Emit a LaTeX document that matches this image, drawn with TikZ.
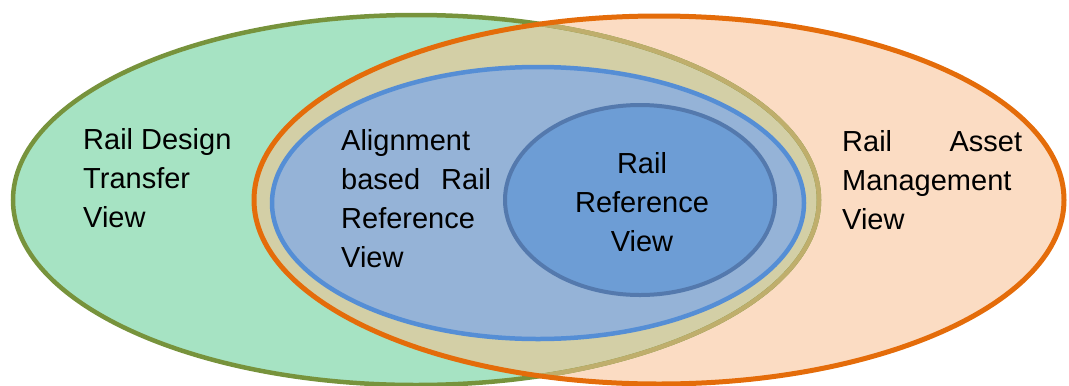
\documentclass[tikz,border=0pt]{standalone}
\usepackage{fontspec}
\setmainfont{Liberation Sans}
\definecolor{designfill}{HTML}{A6E3C3}
\definecolor{designline}{HTML}{77933C}
\definecolor{assetfill}{HTML}{FBDCC3}
\definecolor{assetline}{HTML}{E46C0A}
\definecolor{overlapfill}{HTML}{D3CFA6}
\definecolor{overlapline}{HTML}{BFAE6C}
\definecolor{alignfill}{HTML}{95B3D7}
\definecolor{alignline}{HTML}{558ED5}
\definecolor{reffill}{HTML}{6D9DD5}
\definecolor{refline}{HTML}{5479AD}
\begin{document}
\begin{tikzpicture}[x=1bp,y=-1bp,
  ring/.style={line width=4.5bp},
  label/.style={inner sep=0pt, font=\fontsize{29bp}{39bp}\selectfont, text=black}]
  \useasboundingbox (0,0) rectangle (1069,385);
  \clip (0,0) rectangle (1069,385);
  % the two outer views
  \def\designpath{(416,200) ellipse [x radius=403, y radius=185]}
  \def\assetpath{(659,200) ellipse [x radius=405, y radius=184]}
  \fill[designfill] \designpath;
  \fill[assetfill] \assetpath;
  \begin{scope}
    \clip \designpath;
    \fill[overlapfill] \assetpath;
  \end{scope}
  \draw[ring, designline] \designpath;
  \begin{scope}
    \clip \assetpath;
    \draw[ring, overlapline] \designpath;
  \end{scope}
  % alignment based view and rail reference view
  \draw[ring, alignline, fill=alignfill] (538,203) ellipse [x radius=266, y radius=136];
  \draw[line width=4bp, refline, fill=reffill] (640,200) ellipse [x radius=135, y radius=95];
  % outline of the asset view on top
  \draw[line width=5bp, assetline] \assetpath;
  % labels
  \node[label, anchor=north west, align=left] (rdt) at (83,128)
    {Rail Design\\Transfer\\View};
  \node[label, anchor=north west, align=left] (abr) at (341,129)
    {Alignment\\\makebox[150bp][s]{based Rail}\\Reference\\View};
  \node[label, anchor=north, align=center] (rrv) at (642,152)
    {Rail\\Reference\\View};
  \node[label, anchor=north west, align=left] (ram) at (842,130)
    {\makebox[180bp][s]{Rail Asset}\\Management\\View};
\end{tikzpicture}
\end{document}
